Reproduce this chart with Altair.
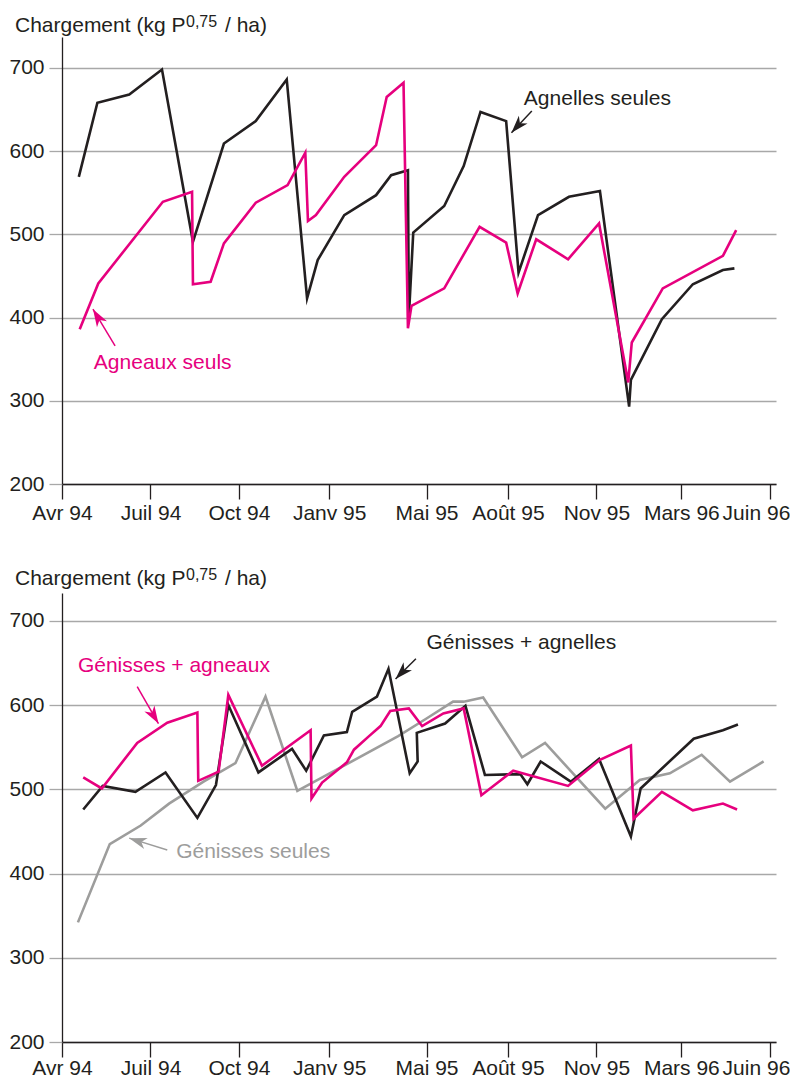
import altair as alt
import pandas as pd

# ---------------- axis ----------------
tick_pos = [0, 1, 2, 3.02, 4.12, 5.04, 6.04, 7, 8]
tick_lab = ["Avr 94", "Juil 94", "Oct 94", "Janv 95", "Mai 95",
            "Août 95", "Nov 95", "Mars 96", "Juin 96"]
y_ticks = [200, 300, 400, 500, 600, 700]

# ---------------- top panel ----------------
agnelles_x = [0.19, 0.40, 0.76, 1.13, 1.48, 1.83, 2.19, 2.54, 2.77, 2.89, 3.19,
              3.55, 3.72, 3.91, 3.92, 3.97, 4.32, 4.54, 4.73, 5.02, 5.16, 5.38,
              5.73, 6.08, 6.41, 6.43, 6.78, 7.13, 7.47, 7.60]
agnelles_y = [569, 658, 668, 698, 491, 609, 636, 686, 423, 469, 523,
              547, 571, 577, 400, 502, 534, 582, 647, 636, 454, 523,
              545, 552, 293, 325, 398, 440, 457, 459]

agneaux_x = [0.20, 0.41, 1.14, 1.47, 1.48, 1.68, 1.83, 2.19, 2.55, 2.75, 2.78,
             2.87, 3.19, 3.55, 3.67, 3.86, 3.91, 3.95, 4.32, 4.72, 5.02, 5.15,
             5.36, 5.72, 6.07, 6.40, 6.44, 6.79, 7.47, 7.62]
agneaux_y = [386, 441, 539, 551, 440, 443, 489, 538, 559, 598, 516,
             523, 569, 607, 665, 682, 387, 414, 435, 509, 490, 429,
             494, 470, 513, 322, 370, 435, 474, 505]

# ---------------- bottom panel ----------------
gen_agnelles_x = [0.24, 0.46, 0.83, 1.17, 1.53, 1.74, 1.88, 2.22, 2.60, 2.76,
                  2.96, 3.22, 3.28, 3.56, 3.69, 3.93, 4.02, 4.01, 4.33, 4.56,
                  4.78, 5.18, 5.26, 5.41, 5.75, 6.07, 6.43, 6.54, 7.14, 7.47, 7.64]
gen_agnelles_y = [476, 504, 497, 520, 466, 505, 600, 520, 548, 522,
                  564, 568, 592, 610, 643, 519, 533, 567, 578, 599,
                  517, 518, 506, 533, 509, 536, 444, 501, 560, 570, 577]

gen_agneaux_x = [0.24, 0.45, 0.85, 1.19, 1.53, 1.54, 1.77, 1.88, 2.26, 2.81,
                 2.82, 2.94, 3.22, 3.30, 3.48, 3.60, 3.71, 3.92, 4.07, 4.31,
                 4.54, 4.74, 5.10, 5.72, 6.08, 6.43, 6.46, 6.78, 7.13, 7.47, 7.63]
gen_agneaux_y = [514, 501, 555, 579, 591, 510, 521, 612, 528, 570,
                 489, 508, 532, 547, 564, 575, 593, 596, 575, 590,
                 596, 493, 522, 504, 535, 552, 465, 497, 475, 483, 476]

gen_seules_x = [0.18, 0.54, 0.89, 1.21, 1.60, 1.96, 2.30, 2.66, 3.80, 4.12,
                4.42, 4.54, 4.76, 5.20, 5.46, 6.14, 6.53, 6.87, 7.23, 7.55, 7.93]
gen_seules_y = [342, 435, 457, 483, 509, 531, 610, 498, 563, 584,
                604, 604, 609, 538, 555, 477, 511, 519, 541, 509, 533]

# ---------------- annotations ----------------
top_labels = ["Agnelles seules", "Agneaux seuls"]
top_label_x = [5.22, 0.36]
top_label_y = [655, 338]
top_label_c = ["#231f20", "#e6007e"]
top_arrow_x = [5.31, 0.60]
top_arrow_y = [648, 366]
top_arrow_x2 = [5.08, 0.35]
top_arrow_y2 = [622, 410]
top_arrow_ang = [222, 329]

bot_labels = ["Génisses + agneaux", "Génisses + agnelles", "Génisses seules"]
bot_label_x = [0.18, 4.12, 1.29]
bot_label_y = [639, 667, 419]
bot_label_c = ["#e6007e", "#231f20", "#9d9d9c"]
bot_arrow_x = [0.85, 4.00, 1.19]
bot_arrow_y = [622, 655, 428]
bot_arrow_x2 = [1.09, 3.77, 0.76]
bot_arrow_y2 = [578, 631, 442]
bot_arrow_ang = [149, 224, 288]

BLACK = "#231f20"
MAGENTA = "#e6007e"
GRAY = "#9d9d9c"
FONT = "Liberation Sans"
FS = 21

label_expr = "[" + ",".join("'%s'" % s for s in tick_lab) + "][indexof([" + \
    ",".join(str(v) for v in tick_pos) + "], datum.value)]"

ARROW = "M0,0 L0.6,1.8 L0,1.3 L-0.6,1.8 Z"


def series_df(xs, ys):
    return pd.DataFrame({"x": xs, "y": ys, "i": list(range(len(xs)))})


def panel(series, labels, lx, ly, lc, ax, ay, ax2, ay2, ang, ymax, height, title_dy,
          lab_pad):
    xsc = alt.Scale(domain=[0, 8.07], nice=False, zero=False)
    ysc = alt.Scale(domain=[200, ymax], nice=False, zero=False)
    xax = alt.Axis(values=tick_pos, labelExpr=label_expr, grid=False, title=None,
                   domainColor=BLACK, domainWidth=1.3, tickColor=BLACK, tickWidth=1.3,
                   tickSize=15, labelPadding=lab_pad, labelFontSize=FS, labelFont=FONT,
                   labelColor=BLACK, labelFlush=False, labelOverlap=False,
                   labelAlign={"condition": {"test": "datum.value == 8", "value": "right"},
                               "value": "center"},
                   labelOffset={"condition": {"test": "datum.value == 8", "value": 20},
                                "value": 0})
    yax = alt.Axis(values=y_ticks, grid=True, gridColor="#a8a8a8", gridWidth=1.3,
                   title=None, domainColor=BLACK, domainWidth=1.3, tickColor="#a8a8a8",
                   tickWidth=1.3, tickSize=13, labelPadding=5, labelFontSize=FS,
                   labelFont=FONT, labelColor=BLACK)
    layers = []
    first = True
    for xs, ys, col in series:
        base = alt.Chart(series_df(xs, ys)).mark_line(
            color=col, strokeWidth=2.6, strokeJoin="miter", strokeMiterLimit=6)
        if first:
            enc = base.encode(x=alt.X("x:Q", scale=xsc, axis=xax),
                              y=alt.Y("y:Q", scale=ysc, axis=yax), order="i:Q")
            first = False
        else:
            enc = base.encode(x=alt.X("x:Q", scale=xsc), y=alt.Y("y:Q", scale=ysc),
                              order="i:Q")
        layers.append(enc)
    ann = pd.DataFrame({"t": labels, "x": lx, "y": ly, "c": lc,
                        "ax": ax, "ay": ay, "ax2": ax2, "ay2": ay2, "ang": ang})
    layers.append(alt.Chart(ann).mark_text(align="left", baseline="alphabetic",
                                           font=FONT, fontSize=FS).encode(
        x=alt.X("x:Q", scale=xsc), y=alt.Y("y:Q", scale=ysc), text="t:N",
        color=alt.Color("c:N", scale=None)))
    layers.append(alt.Chart(ann).mark_rule(strokeWidth=1.5).encode(
        x=alt.X("ax:Q", scale=xsc), y=alt.Y("ay:Q", scale=ysc),
        x2="ax2:Q", y2="ay2:Q", color=alt.Color("c:N", scale=None)))
    layers.append(alt.Chart(ann).mark_point(shape=ARROW, filled=True, opacity=1,
                                            size=380, strokeWidth=0).encode(
        x=alt.X("ax2:Q", scale=xsc), y=alt.Y("ay2:Q", scale=ysc),
        angle=alt.Angle("ang:Q", scale=None), color=alt.Color("c:N", scale=None)))
    # title with superscript
    tdf = pd.DataFrame({"a": [0]})
    layers.append(alt.Chart(tdf).mark_text(align="left", baseline="alphabetic",
                                           font=FONT, fontSize=FS, color=BLACK,
                                           text="Chargement (kg P").encode(
        x=alt.value(-47), y=alt.value(title_dy)))
    layers.append(alt.Chart(tdf).mark_text(align="left", baseline="alphabetic",
                                           font=FONT, fontSize=16, color=BLACK,
                                           text="0,75").encode(
        x=alt.value(124), y=alt.value(title_dy - 5)))
    layers.append(alt.Chart(tdf).mark_text(align="left", baseline="alphabetic",
                                           font=FONT, fontSize=FS, color=BLACK,
                                           text="/ ha)").encode(
        x=alt.value(163), y=alt.value(title_dy)))
    return alt.layer(*layers).properties(width=714, height=height)


top = panel([(agnelles_x, agnelles_y, BLACK), (agneaux_x, agneaux_y, MAGENTA)],
            top_labels, top_label_x, top_label_y, top_label_c,
            top_arrow_x, top_arrow_y, top_arrow_x2, top_arrow_y2, top_arrow_ang,
            737, 447, -5, 3)
bottom = panel([(gen_seules_x, gen_seules_y, GRAY),
                (gen_agnelles_x, gen_agnelles_y, BLACK),
                (gen_agneaux_x, gen_agneaux_y, MAGENTA)],
               bot_labels, bot_label_x, bot_label_y, bot_label_c,
               bot_arrow_x, bot_arrow_y, bot_arrow_x2, bot_arrow_y2, bot_arrow_ang,
               733, 449, -8, 0)

chart = alt.vconcat(top, bottom, spacing=44).properties(
    padding={"left": 0, "top": 6, "right": 0, "bottom": 0}
).configure(font=FONT).configure_view(strokeWidth=0, stroke="transparent")

chart.save("out.html", embed_options={"renderer": "svg", "actions": False})
